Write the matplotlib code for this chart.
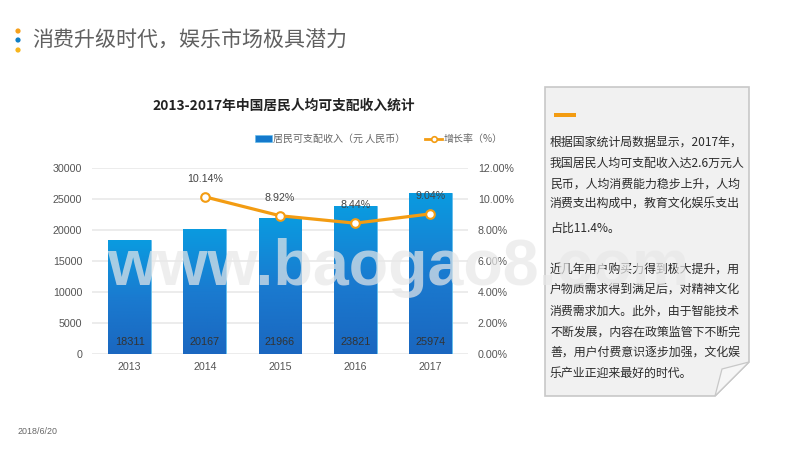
import numpy as np
import matplotlib
matplotlib.use("Agg")
import matplotlib.pyplot as plt
from matplotlib.colors import LinearSegmentedColormap
from matplotlib.lines import Line2D
from matplotlib.patches import Patch, Polygon, Circle, Rectangle
from matplotlib.ticker import FormatStrFormatter

CJK = ["Noto Sans CJK SC", "DejaVu Sans"]
plt.rcParams["font.family"] = CJK

years = ["2013", "2014", "2015", "2016", "2017"]
income = [18311, 20167, 21966, 23821, 25974]
growth = [np.nan, 10.14, 8.92, 8.44, 9.04]
growth_labels = ["", "10.14%", "8.92%", "8.44%", "9.04%"]

page_title = "消费升级时代，娱乐市场极具潜力"
chart_title = "2013-2017年中国居民人均可支配收入统计"
legend_bar = "居民可支配收入（元 人民币）"
legend_line = "增长率（%）"
date_text = "2018/6/20"

para_lines = [
    ("根据国家统计局数据显示，2017年，", 142),
    ("我国居民人均可支配收入达2.6万元人", 163),
    ("民币，人均消费能力稳步上升，人均", 184),
    ("消费支出构成中，教育文化娱乐支出", 204),
    ("占比11.4%。", 228),
    ("近几年用户购买力得到极大提升，用", 270),
    ("户物质需求得到满足后，对精神文化", 289),
    ("消费需求加大。此外，由于智能技术", 311),
    ("不断发展，内容在政策监管下不断完", 332),
    ("善，用户付费意识逐步加强，文化娱", 352),
    ("乐产业正迎来最好的时代。", 373),
]

ORANGE = "#f39c12"
BLUE_TOP = "#0a9be0"
BLUE_BOT = "#1a67c0"
GRID = "#e9e9e9"
TICK = "#555555"

fig = plt.figure(figsize=(8, 4.5), dpi=100, facecolor="white")

# page layer, in pixels
bg = fig.add_axes([0, 0, 1, 1], zorder=0)
bg.set_xlim(0, 800)
bg.set_ylim(450, 0)
bg.axis("off")

for y, c in [(31, "#f5a01c"), (40, "#0f7fc6"), (50, "#f7b51d")]:
    bg.add_patch(Circle((18, y), 2.6, color=c, lw=0))
bg.text(32, 41, page_title, fontsize=15.1, color="#606060", va="center", ha="left")
bg.text(284, 106, chart_title, fontsize=9.9, color="#222222", fontweight="bold",
        va="center", ha="center")
bg.text(18, 432, date_text, fontsize=6.4, color="#666666", family="Liberation Sans",
        va="center", ha="left")

# note panel with the folded corner
bg.add_patch(Polygon([(545, 87), (749, 87), (749, 362), (715, 396), (545, 396)],
                     closed=True, facecolor="#f1f1f1", edgecolor="#c8c8c8", lw=1.2))
bg.add_patch(Polygon([(749, 362), (722, 369), (715, 396)], closed=True,
                     facecolor="#f6f6f6", edgecolor="#c8c8c8", lw=0.9))
bg.add_patch(Rectangle((554, 113), 22, 4, color=ORANGE, lw=0))
for line, y in para_lines:
    bg.text(550, y, line, fontsize=8.6, color="#2b2b2b", va="center", ha="left")

# chart
ax = fig.add_axes([92 / 800, 1 - 354 / 450, 376 / 800, 186 / 450], zorder=2)
ax.patch.set_alpha(0)
x = np.arange(len(years))
bars = ax.bar(x, income, width=0.57, color=BLUE_TOP, edgecolor="#63bdec", linewidth=0.6, zorder=2)
ax.set_xlim(-0.5, 4.5)
ax.set_ylim(0, 30000)
ax.set_yticks(range(0, 30001, 5000))
ax.set_xticks(x, years)
ax.grid(axis="y", color=GRID, lw=1.2, zorder=0)
ax.set_axisbelow(True)
ax.tick_params(length=0, labelsize=7.7, labelcolor=TICK, pad=7)
ax.tick_params(axis="x", pad=6)
for lab in ax.get_xticklabels() + ax.get_yticklabels():
    lab.set_family("Liberation Sans")
for s in ax.spines.values():
    s.set_visible(False)

cmap = LinearSegmentedColormap.from_list("bar", [BLUE_BOT, "#1a7bd0", BLUE_TOP])
grad = np.linspace(0, 1, 128).reshape(-1, 1)
for b in bars:
    im = ax.imshow(grad, cmap=cmap, origin="lower", aspect="auto", zorder=2.1,
                   extent=[b.get_x(), b.get_x() + b.get_width(), 0, b.get_height()])
    im.set_clip_path(b)
ax.set_xlim(-0.5, 4.5)
ax.set_ylim(0, 30000)

for xi, v in zip(x, income):
    ax.annotate(str(v), (xi, 0), xytext=(0, 8.6), textcoords="offset points", ha="center",
                va="center", fontsize=7.8, color="#333333", family="Liberation Sans", zorder=3)

ax2 = ax.twinx()
ax2.set_ylim(0, 12)
ax2.set_yticks(range(0, 13, 2))
ax2.yaxis.set_major_formatter(FormatStrFormatter("%.2f%%"))
ax2.tick_params(length=0, labelsize=7.7, labelcolor=TICK, pad=7)
for lab in ax2.get_yticklabels():
    lab.set_family("Liberation Sans")
for s in ax2.spines.values():
    s.set_visible(False)
ax2.plot(x, growth, color=ORANGE, lw=2.3, marker="o", ms=6.2, mfc="white", mec=ORANGE,
         mew=1.5, solid_capstyle="round", zorder=4)
for xi, g, t in zip(x, growth, growth_labels):
    if t:
        ax2.annotate(t, (xi, g), xytext=(0, 13), textcoords="offset points", ha="center",
                     va="center", fontsize=7.7, color="#444444", family="Liberation Sans")

# legend sits above the plot area
handles = [Patch(facecolor="#1479cc", edgecolor="#63bdec", lw=0.4),
           Line2D([0], [0], color=ORANGE, lw=2, marker="o", ms=4, mfc="white", mec=ORANGE, mew=1.2)]
leg = bg.legend(handles, [legend_bar, legend_line], ncol=2, frameon=False, fontsize=7.2,
                loc="center left", bbox_to_anchor=(255 / 800, 1 - 139 / 450),
                bbox_transform=fig.transFigure, borderpad=0, borderaxespad=0,
                handlelength=1.7, handleheight=0.6, handletextpad=0.1, columnspacing=2.0,
                labelcolor="#666666")

# site watermark across the page
wm = fig.add_axes([0, 0, 1, 1], zorder=5)
wm.set_xlim(0, 800)
wm.set_ylim(450, 0)
wm.axis("off")
wm.text(107, 285, "www.baogao8.com", fontsize=46.5, fontweight="bold", family="Liberation Sans",
        color="#e8e8e8", alpha=0.7, ha="left", va="baseline")

fig.savefig("out.png", dpi=100, facecolor="white")
